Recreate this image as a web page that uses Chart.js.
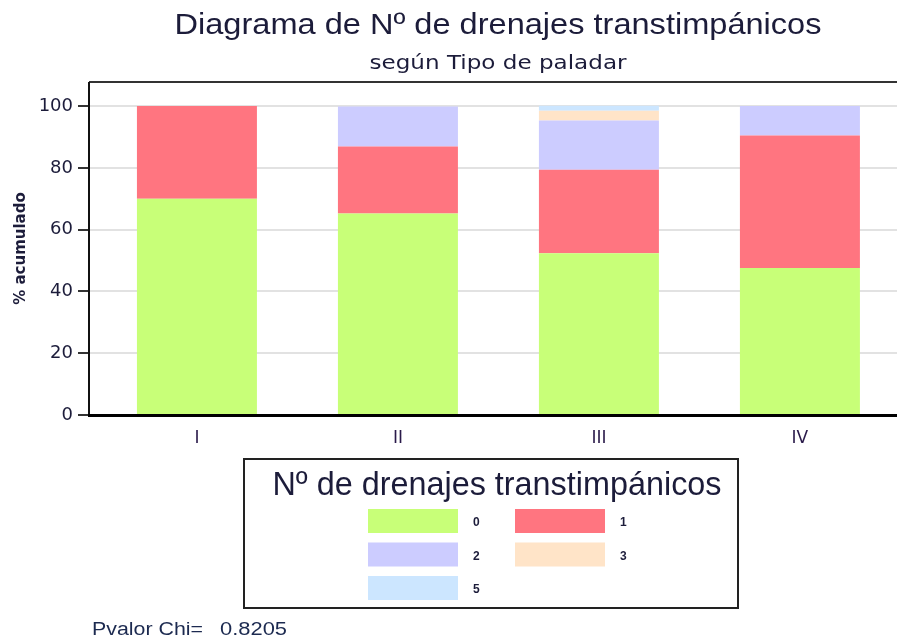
<!DOCTYPE html>
<html>
<head>
<meta charset="utf-8">
<script src="https://cdn.jsdelivr.net/npm/chart.js@4"></script>
<style>
  html, body { margin: 0; padding: 0; background: #fff; overflow: hidden; }
  #wrap { width: 897px; height: 639px; }
</style>
</head>
<body>
<div id="wrap"><canvas id="chart"></canvas></div>
<script>
const categories = ["I", "II", "III", "IV"];
const seriesNames = ["0", "1", "2", "3", "5"];
const pct0 = [70.0, 65.2, 52.4, 47.6];
const pct1 = [30.0, 21.7, 27.0, 42.9];
const pct2 = [0, 13.0, 15.9, 9.5];
const pct3 = [0, 0, 3.2, 0];
const pct5 = [0, 0, 1.6, 0];
const yTicks = [0, 20, 40, 60, 80, 100];
const colors = ["#c8ff78", "#ff7580", "#ccccff", "#ffe4c8", "#cce6ff"];
const pvalor = "0.8205";

const series = [pct0, pct1, pct2, pct3, pct5];
const ink = "#1c1c3a";
const sans = "'Liberation Sans', Arial, sans-serif";
const wide = "'DejaVu Sans', sans-serif";

const datasets = series.map((vals, i) => ({
  label: seriesNames[i],
  data: vals.map((v, j) => ({ x: j, y: v })),
  backgroundColor: colors[i],
  borderWidth: 0,
  categoryPercentage: 1,
  barPercentage: 0.597
}));

// draw text squeezed/stretched to a given width
function fitText(ctx, text, x, y, w, align) {
  const m = ctx.measureText(text).width;
  const sx = w / m;
  ctx.save();
  ctx.textAlign = "left";
  const left = align === "center" ? x - w / 2 : x;
  ctx.translate(left, y);
  ctx.scale(sx, 1);
  ctx.fillText(text, 0, 0);
  ctx.restore();
}

// frame, titles, custom legend box and p-value
const extras = {
  id: "extras",
  beforeDatasetsDraw(chart) {
    const { ctx, chartArea: a } = chart;
    ctx.save();
    ctx.strokeStyle = "#333";
    ctx.lineWidth = 2;
    ctx.beginPath();
    ctx.moveTo(a.left, a.top);
    ctx.lineTo(a.right, a.top);
    ctx.stroke();
    ctx.restore();
  },
  afterDraw(chart) {
    const { ctx, chartArea: a } = chart;
    ctx.save();
    // axis lines
    ctx.strokeStyle = "#111";
    ctx.lineWidth = 2;
    ctx.beginPath();
    ctx.moveTo(a.left, a.top);
    ctx.lineTo(a.left, a.bottom);
    ctx.stroke();
    ctx.fillStyle = "#000";
    ctx.fillRect(a.left - 1, a.bottom - 1, a.right - a.left + 1, 3);

    // titles
    ctx.fillStyle = ink;
    ctx.textBaseline = "alphabetic";
    ctx.font = "30px " + sans;
    fitText(ctx, "Diagrama de Nº de drenajes transtimpánicos", 498, 34, 647, "center");
    ctx.font = "19px " + wide;
    fitText(ctx, "según Tipo de paladar", 498, 69, 257, "center");

    // legend box
    ctx.strokeStyle = "#222";
    ctx.lineWidth = 2;
    ctx.strokeRect(244, 459, 494, 149);
    ctx.font = "33px " + sans;
    fitText(ctx, "Nº de drenajes transtimpánicos", 497, 495, 449, "center");

    const ds = chart.data.datasets;
    ctx.textAlign = "left";
    ctx.textBaseline = "middle";
    ctx.font = "bold 12px " + sans;
    ds.forEach((d, i) => {
      const col = i % 2, row = Math.floor(i / 2);
      const x = 368 + col * 147;
      const y = 509 + row * 33.5;
      ctx.fillStyle = d.backgroundColor;
      ctx.fillRect(x, y, 90, 24);
      ctx.fillStyle = ink;
      ctx.fillText(d.label, x + 105, y + 14);
    });

    // p-value
    ctx.font = "18px " + sans;
    ctx.fillStyle = "#1c2a50";
    ctx.textBaseline = "alphabetic";
    fitText(ctx, "Pvalor Chi=", 92, 635, 111, "left");
    fitText(ctx, pvalor, 220, 635, 67, "left");
    ctx.restore();
  }
};

new Chart(document.getElementById("chart"), {
  type: "bar",
  data: { datasets },
  options: {
    responsive: true,
    maintainAspectRatio: false,
    animation: false,
    layout: { padding: { top: 82, right: 0, left: 0, bottom: 0 } },
    plugins: {
      legend: { display: false },
      tooltip: { enabled: false }
    },
    scales: {
      x: {
        type: "linear",
        stacked: true,
        offset: false,
        min: -0.537,
        max: 3.483,
        afterFit: s => { s.height = 224; },
        afterBuildTicks: s => { s.ticks = categories.map((c, i) => ({ value: i })); },
        ticks: {
          callback: v => categories[v],
          color: "#2a1a4a",
          font: { family: wide, size: 17 },
          padding: 13,
          maxRotation: 0,
          autoSkip: false
        },
        grid: { display: false, drawTicks: false, offset: false },
        border: { display: false }
      },
      y: {
        stacked: true,
        min: 0,
        max: 107.8,
        afterFit: s => { s.width = 89; },
        afterBuildTicks: s => { s.ticks = yTicks.map(v => ({ value: v })); },
        ticks: {
          color: ink,
          font: { family: wide, size: 18 },
          padding: 5
        },
        grid: {
          color: "#e2e2e2",
          lineWidth: 2,
          tickColor: "#333",
          tickLength: 11,
          tickWidth: 2
        },
        border: { display: false },
        title: {
          display: true,
          text: "% acumulado",
          color: ink,
          font: { family: wide, size: 15, weight: "bold" },
          padding: { top: 12, bottom: 0 }
        }
      }
    }
  },
  plugins: [extras]
});
</script>
</body>
</html>
